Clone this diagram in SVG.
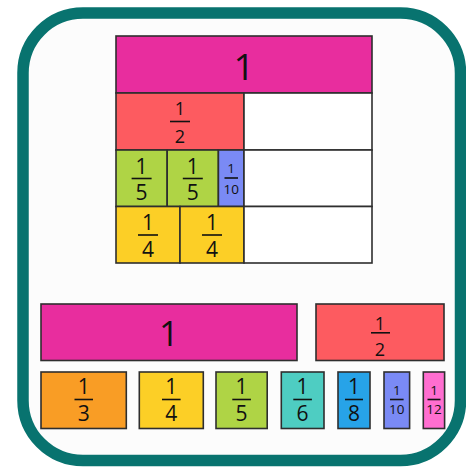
<svg xmlns="http://www.w3.org/2000/svg" width="466" height="467" viewBox="0 0 466 467">
<style>
.c{stroke:#2e2e2e;stroke-width:1.6}
.t{font-family:"Open Sans","Noto Sans","DejaVu Sans",sans-serif;fill:#111;text-anchor:middle}
.f20{font-size:21px}
.f17{font-size:18px}
.f13{font-size:13.5px}
.fl{stroke:#111;stroke-width:1.6}
.mag{fill:#e82d9e}.red{fill:#fd5b60}.grn{fill:#afd445}.pur{fill:#7a8af5}.yel{fill:#fccf26}
.org{fill:#f99d25}.tea{fill:#4ecdc2}.blu{fill:#27a3e8}.pnk{fill:#ff6ed0}.wht{fill:#ffffff}
</style>
<rect width="466" height="467" fill="#ffffff"/>
<rect id="frame" x="23" y="13" width="437.5" height="447.5" rx="60" fill="#fcfcfc" stroke="#08736f" stroke-width="11.5"/>

<g id="wall">
  <g id="w-one"><rect class="c mag" x="116" y="36" width="256" height="57"/><text class="t" x="244" y="79.5" font-size="37">1</text></g>
  <g id="w-half"><rect class="c red" x="116" y="93" width="128" height="57"/><text class="t f17" x="180" y="114.5">1</text><line class="fl" x1="170" y1="121.5" x2="190" y2="121.5"/><text class="t f17" x="180" y="142.5">2</text></g>
  <g id="w-half-empty"><rect class="c wht" x="244" y="93" width="128" height="57"/></g>
  <g id="w-fifth1"><rect class="c grn" x="116" y="150" width="51.2" height="56.5"/><text class="t f20" x="141.6" y="174">1</text><line class="fl" x1="131.6" y1="178.5" x2="151.6" y2="178.5"/><text class="t f20" x="141.6" y="200">5</text></g>
  <g id="w-fifth2"><rect class="c grn" x="167.2" y="150" width="51.2" height="56.5"/><text class="t f20" x="192.8" y="174">1</text><line class="fl" x1="182.8" y1="178.5" x2="202.8" y2="178.5"/><text class="t f20" x="192.8" y="200">5</text></g>
  <g id="w-tenth"><rect class="c pur" x="218.4" y="150" width="25.6" height="56.5"/><text class="t f13" x="231.2" y="173">1</text><line class="fl" x1="224.5" y1="178" x2="238" y2="178"/><text class="t f13" x="231.2" y="193.5">10</text></g>
  <g id="w-row3-empty"><rect class="c wht" x="244" y="150" width="128" height="56.5"/></g>
  <g id="w-quarter1"><rect class="c yel" x="116" y="206.5" width="64" height="56.5"/><text class="t f20" x="148" y="230">1</text><line class="fl" x1="138" y1="235" x2="158" y2="235"/><text class="t f20" x="148" y="256.5">4</text></g>
  <g id="w-quarter2"><rect class="c yel" x="180" y="206.5" width="64" height="56.5"/><text class="t f20" x="212" y="230">1</text><line class="fl" x1="202" y1="235" x2="222" y2="235"/><text class="t f20" x="212" y="256.5">4</text></g>
  <g id="w-row4-empty"><rect class="c wht" x="244" y="206.5" width="128" height="56.5"/></g>
</g>

<g id="pieces">
  <g id="p-one"><rect class="c mag" x="41" y="304" width="256" height="56.5"/><text class="t" x="169" y="346" font-size="35">1</text></g>
  <g id="p-half"><rect class="c red" x="316" y="304" width="128" height="56.5"/><text class="t f17" x="380" y="329.5">1</text><line class="fl" x1="371" y1="332.8" x2="390" y2="332.8"/><text class="t f17" x="380" y="356">2</text></g>
  <g id="p-third"><rect class="c org" x="41" y="372" width="85.3" height="56.5"/><text class="t f20" x="83.7" y="393.5">1</text><line class="fl" x1="74.5" y1="399.5" x2="93" y2="399.5"/><text class="t f20" x="83.7" y="420.5">3</text></g>
  <g id="p-quarter"><rect class="c yel" x="139.3" y="372" width="64" height="56.5"/><text class="t f20" x="171.3" y="393.5">1</text><line class="fl" x1="162" y1="399.5" x2="180.6" y2="399.5"/><text class="t f20" x="171.3" y="420.5">4</text></g>
  <g id="p-fifth"><rect class="c grn" x="216" y="372" width="51.2" height="56.5"/><text class="t f20" x="241.6" y="393.5">1</text><line class="fl" x1="232.3" y1="399.5" x2="250.9" y2="399.5"/><text class="t f20" x="241.6" y="420.5">5</text></g>
  <g id="p-sixth"><rect class="c tea" x="281.3" y="372" width="42.7" height="56.5"/><text class="t f20" x="302.6" y="393.5">1</text><line class="fl" x1="293.3" y1="399.5" x2="311.9" y2="399.5"/><text class="t f20" x="302.6" y="420.5">6</text></g>
  <g id="p-eighth"><rect class="c blu" x="338" y="372" width="32" height="56.5"/><text class="t f20" x="354" y="393.5">1</text><line class="fl" x1="345" y1="399.5" x2="363" y2="399.5"/><text class="t f20" x="354" y="420.5">8</text></g>
  <g id="p-tenth"><rect class="c pur" x="384" y="372" width="25.6" height="56.5"/><text class="t f13" x="396.8" y="395">1</text><line class="fl" x1="390" y1="399.5" x2="403.6" y2="399.5"/><text class="t f13" x="396.8" y="414">10</text></g>
  <g id="p-twelfth"><rect class="c pnk" x="423.3" y="372" width="21.3" height="56.5"/><text class="t f13" x="434" y="395">1</text><line class="fl" x1="427.5" y1="399.5" x2="440.5" y2="399.5"/><text class="t f13" x="434" y="414">12</text></g>
</g>
</svg>
